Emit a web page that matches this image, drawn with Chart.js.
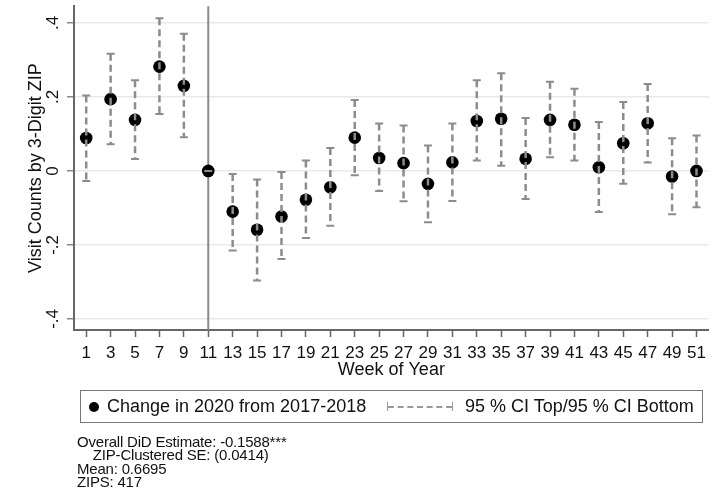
<!DOCTYPE html>
<html>
<head>
<meta charset="utf-8">
<script src="https://cdn.jsdelivr.net/npm/chart.js@4"></script>
<style>
  html, body { margin: 0; padding: 0; background: #fff; }
  #wrap { position: relative; width: 715px; height: 498px; font-family: "Liberation Sans", Arial, sans-serif; color: #111; }
  canvas { position: absolute; left: 0; top: 0; }
  #legend { position: absolute; left: 80px; top: 390px; width: 621px; height: 31px; border: 1px solid #777; box-sizing: content-box; font-size: 18px; }
  #legend .dot { position: absolute; left: 8px; top: 11px; width: 10px; height: 10px; border-radius: 50%; background: #000; }
  #legend .t1 { position: absolute; left: 26px; top: 5px; white-space: nowrap; }
  #legend .dash { position: absolute; left: 307px; top: 15px; width: 64px; height: 0; border-top: 2px dashed #999; }
  #legend .capl { position: absolute; left: 306px; top: 11px; width: 1px; height: 9px; background: #999; }
  #legend .capr { position: absolute; left: 371px; top: 11px; width: 1px; height: 9px; background: #999; }
  #legend .t2 { position: absolute; left: 384px; top: 5px; white-space: nowrap; }
  #notes { position: absolute; left: 77px; top: 435px; font-size: 15px; line-height: 13.3px; white-space: pre; letter-spacing: -0.2px; }
</style>
</head>
<body>
<div id="wrap">
  <canvas id="c" width="715" height="498"></canvas>
  <div id="legend">
    <span class="dot"></span><span class="t1" id="lg1"></span>
    <span class="capl"></span><span class="dash"></span><span class="capr"></span>
    <span class="t2" id="lg2"></span>
  </div>
  <div id="notes"></div>
</div>
<script>
// ---- Data ----
const weeks = [1, 3, 5, 7, 9, 11, 13, 15, 17, 19, 21, 23, 25, 27, 29, 31, 33, 35, 37, 39, 41, 43, 45, 47, 49, 51];
const estimate = [0.089, 0.194, 0.138, 0.282, 0.230, 0.000, -0.110, -0.159, -0.123, -0.078, -0.044, 0.090, 0.035, 0.021, -0.035, 0.023, 0.135, 0.141, 0.033, 0.138, 0.125, 0.010, 0.075, 0.129, -0.015, 0.000];
const ciTop = [0.204, 0.317, 0.245, 0.413, 0.371, 0.000, -0.008, -0.023, -0.003, 0.028, 0.062, 0.192, 0.128, 0.123, 0.069, 0.128, 0.245, 0.264, 0.143, 0.241, 0.222, 0.132, 0.186, 0.235, 0.088, 0.096];
const ciBottom = [-0.027, 0.072, 0.032, 0.154, 0.091, 0.000, -0.215, -0.296, -0.238, -0.181, -0.148, -0.012, -0.054, -0.082, -0.139, -0.081, 0.028, 0.014, -0.076, 0.037, 0.028, -0.111, -0.035, 0.023, -0.117, -0.098];
const eventWeek = 11;
const yTicks = [-0.4, -0.2, 0, 0.2, 0.4];
const yTickLabels = ['-.4', '-.2', '0', '.2', '.4'];
const xTicks = weeks;
const xTitle = 'Week of Year';
const yTitle = 'Visit Counts by 3-Digit ZIP';
const legendLabels = ['Change in 2020 from 2017-2018', '95 % CI Top/95 % CI Bottom'];
const notes = ['Overall DiD Estimate: -0.1588***', '    ZIP-Clustered SE: (0.0414)', 'Mean: 0.6695', 'ZIPS: 417'];

document.getElementById('lg1').textContent = legendLabels[0];
document.getElementById('lg2').textContent = legendLabels[1];
document.getElementById('notes').textContent = notes.join('\n');

const FONT = '"Liberation Sans", Arial, sans-serif';

const eventLine = {
  id: 'eventLine',
  beforeDatasetsDraw(chart) {
    const {ctx, chartArea, scales: {x}} = chart;
    const px = x.getPixelForValue(eventWeek);
    ctx.save();
    ctx.strokeStyle = '#8a8a8a';
    ctx.lineWidth = 2;
    ctx.beginPath();
    ctx.moveTo(px, chartArea.top);
    ctx.lineTo(px, chartArea.bottom);
    ctx.stroke();
    ctx.restore();
  }
};

const errorBars = {
  id: 'errorBars',
  afterDatasetsDraw(chart) {
    const {ctx, scales: {x, y}} = chart;
    ctx.save();
    ctx.strokeStyle = '#8c8c8c';
    for (let i = 0; i < weeks.length; i++) {
      const px = x.getPixelForValue(weeks[i]);
      const pt = y.getPixelForValue(ciTop[i]);
      const pb = y.getPixelForValue(ciBottom[i]);
      ctx.lineWidth = 2.5;
      ctx.setLineDash([7, 4]);
      ctx.beginPath();
      ctx.moveTo(px, pt);
      ctx.lineTo(px, pb);
      ctx.stroke();
      ctx.setLineDash([]);
      ctx.lineWidth = 2;
      ctx.beginPath();
      ctx.moveTo(px - 4, pt); ctx.lineTo(px + 4, pt);
      ctx.moveTo(px - 4, pb); ctx.lineTo(px + 4, pb);
      ctx.stroke();
    }
    ctx.restore();
  }
};

new Chart(document.getElementById('c'), {
  type: 'scatter',
  data: {
    datasets: [{
      label: legendLabels[0],
      data: weeks.map((w, i) => ({x: w, y: estimate[i]})),
      backgroundColor: '#000',
      borderColor: '#000',
      pointRadius: 6.3,
      pointBorderWidth: 0
    }]
  },
  options: {
    responsive: false,
    animation: false,
    devicePixelRatio: 1,
    layout: { padding: { left: 0, right: 4, top: 6, bottom: 116 } },
    plugins: { legend: { display: false }, tooltip: { enabled: false } },
    scales: {
      x: {
        type: 'linear',
        min: 0,
        max: 52,
        afterBuildTicks(s) { s.ticks = xTicks.map(v => ({value: v})); },
        afterFit(s) { s.height = 52; s.paddingLeft = 0; s.paddingRight = 0; },
        ticks: { autoSkip: false, maxRotation: 0, minRotation: 0, padding: 6, color: '#111', font: { family: FONT, size: 17 } },
        grid: { drawOnChartArea: false, drawTicks: true, tickLength: 7, tickColor: '#666', tickWidth: 1.5 },
        border: { display: true, color: '#666', width: 2 },
        title: { display: true, text: xTitle, color: '#111', font: { family: FONT, size: 18 }, padding: { top: 0, bottom: 1 } }
      },
      y: {
        type: 'linear',
        min: -0.43,
        max: 0.445,
        afterBuildTicks(s) { s.ticks = yTicks.map(v => ({value: v})); },
        afterFit(s) { s.width = 74; s.paddingTop = 0; s.paddingBottom = 0; },
        ticks: {
          minRotation: 90, maxRotation: 90, crossAlign: 'center', padding: 4, color: '#111',
          font: { family: FONT, size: 17 },
          callback(v) { const k = yTicks.findIndex(t => Math.abs(t - v) < 1e-9); return k >= 0 ? yTickLabels[k] : ''; }
        },
        grid: { color: '#e9e9e9', lineWidth: 1.5, tickLength: 7, tickColor: '#888', tickWidth: 1.5 },
        border: { display: true, color: '#666', width: 2 },
        title: { display: true, text: yTitle, color: '#111', font: { family: FONT, size: 18 }, padding: { top: 25, bottom: 0 } }
      }
    }
  },
  plugins: [eventLine, errorBars]
});
</script>
</body>
</html>
